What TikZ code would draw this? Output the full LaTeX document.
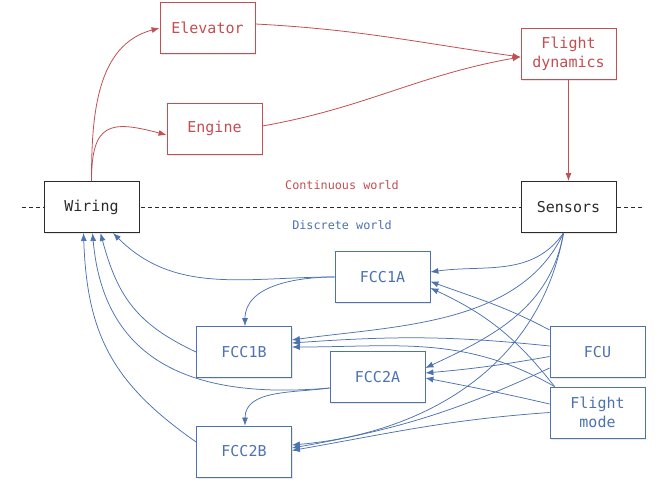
\documentclass[tikz,border=0pt]{standalone}
\usepackage{fontspec}
\setmonofont{DejaVu Sans Mono}
\usetikzlibrary{calc,shadows,arrows.meta}

\definecolor{fcred}{HTML}{C44E52}
\definecolor{fcblue}{HTML}{4C72B0}
\definecolor{fcdark}{HTML}{2B2B2B}

\begin{document}
\begin{tikzpicture}[x=1pt,y=1pt]
    \tikzstyle{every node}=[font=\ttfamily\fontsize{15}{19}\selectfont]
    \tikzstyle{box}=[draw, fill=white, minimum width=95, minimum height=51, inner sep=2, align=center,
        drop shadow={shadow xshift=1.2pt, shadow yshift=-1.6pt, opacity=.15, fill=black!60}]
    \tikzstyle{redbox}=[box, draw=fcred, text=fcred, line width=.9pt]
    \tikzstyle{bluebox}=[box, draw=fcblue, text=fcblue, line width=.8pt]
    \tikzstyle{blackbox}=[box, draw=fcdark, text=fcdark, line width=1pt]
    \tikzstyle{redline}=[draw=fcred, line width=.8pt, -{Latex[length=8pt,width=6pt]}]
    \tikzstyle{blueline}=[draw=fcblue, line width=.75pt, -{Latex[length=8pt,width=6pt]}]
    \useasboundingbox (0,0) rectangle (665,-482);
    % border between the two worlds
    \coordinate (DL) at (22,-207);
    \coordinate (DR) at (643,-207);
    \draw[fcdark, line width=.6pt, dash pattern=on 4pt off 3pt] (DL) -- (DR);
    \node[text=fcred, font=\ttfamily\fontsize{11.8}{14}\selectfont] (CW) at (342,-185) {Continuous world};
    \node[text=fcblue, font=\ttfamily\fontsize{11.8}{14}\selectfont] (DW) at (342,-225) {Discrete world};
    % continuous part
    \node[redbox] (Elevator) at (207.5,-28) {Elevator};
    \node[redbox] (Engine) at ($(Elevator)+(7,-100.5)$) {Engine};
    \node[redbox] (FD) at (568.5,-53.5) {Flight\\dynamics};
    \node[blackbox] (Wiring) at (91.5,-207) {Wiring};
    \node[blackbox] (Sensors) at ($(Wiring)+(477,0)$) {Sensors};
    % discrete part
    \node[bluebox] (FCC1A) at (382.5,-277) {FCC1A};
    \node[bluebox] (FCC1B) at (244,-352) {FCC1B};
    \node[bluebox] (FCC2A) at (377.5,-377) {FCC2A};
    \node[bluebox] (FCC2B) at ($(FCC1B)+(0,-99.5)$) {FCC2B};
    \node[bluebox] (FCU) at (597.5,-352) {FCU};
    \node[bluebox] (FM) at ($(FCU)+(0,-60.5)$) {Flight\\mode};

    \draw[redline] (Wiring.north) to[out=90, in=195] (Elevator.west);
    \draw[redline] (Wiring.north) to[out=90, in=165, looseness=1.7] ($(Engine.west)+(0,-6.5)$);
    \draw[redline] ($(Elevator.east)+(0,4)$) to[out=-3, in=172] ($(FD.west)+(0,-3.5)$);
    \draw[redline] ($(Engine.east)+(0,2.5)$) to[out=10, in=190] ($(FD.west)+(0,-3.5)$);
    \draw[redline] (FD) -- (Sensors);

    \draw[blueline] (FCC1A.west) to[out=180, in=-45] ($(Wiring.south)+(21.5,0)$);
    \draw[blueline] (FCC1B.west) to[out=155, in=-75, looseness=1.1] ($(Wiring.south)+(9,0)$);
    \draw[blueline] ($(FCC2A.west)+(0,-11)$) to[out=185, in=-85, looseness=1.2] ($(Wiring.south)+(1,0)$);
    \draw[blueline] ($(FCC2B.west)+(0,9.5)$) to[out=145, in=-88, looseness=1.1] ($(Wiring.south)+(-8,0)$);
    \draw[blueline] (FCC1A.west) to[out=180, in=90] ($(FCC1B.north)+(1,0)$);
    \draw[blueline] ($(FCC2A.west)+(0,-11)$) to[out=188, in=90] ($(FCC2B.north)+(1,0)$);

    \coordinate (S) at ($(Sensors.south)+(-5,0)$);
    \draw[blueline] (S) to[out=-125, in=8] ($(FCC1A.east)+(0,5)$);
    \draw[blueline] (S) to[out=-115, in=8, looseness=.9] ($(FCC1B.east)+(0,12)$);
    \draw[blueline] (S) to[out=-100, in=25] ($(FCC2A.east)+(0,9)$);
    \draw[blueline] (S) to[out=-100, in=5] ($(FCC2B.east)+(0,6.5)$);

    \draw[blueline] ($(FCU.west)+(0,22)$) to[out=152, in=-20] ($(FCC1A.east)+(0,-4.5)$);
    \draw[blueline] ($(FCU.west)+(0,6)$) to[out=174, in=4] ($(FCC1B.east)+(0,9)$);
    \draw[blueline] ($(FCU.west)+(0,-4.5)$) to[out=190, in=5] ($(FCC2A.east)+(0,4)$);
    \draw[blueline] ($(FCU.west)+(0,-16)$) to[out=205, in=10] ($(FCC2B.east)+(0,3.5)$);

    \draw[blueline] ($(FM.north west)+(5,0)$) to[out=128, in=-25] ($(FCC1A.east)+(0,-11)$);
    \draw[blueline] ($(FM.north west)+(5,0)$) to[out=150, in=0] ($(FCC1B.east)+(0,5)$);
    \draw[blueline] ($(FM.west)+(0,8.5)$) to[out=167, in=-11] ($(FCC2A.east)+(0,-1)$);
    \draw[blueline] (FM.west) to[out=184, in=10] ($(FCC2B.east)+(0,1)$);
\end{tikzpicture}
\end{document}
